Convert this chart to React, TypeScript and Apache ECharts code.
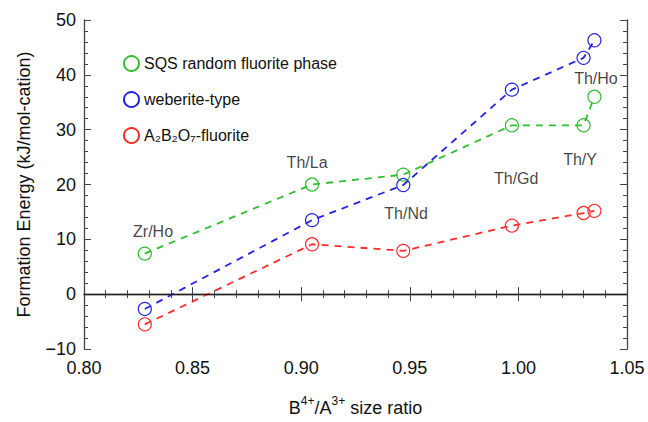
import React, { useEffect, useRef } from "react";
import * as echarts from "echarts";

const ratios = [0.828, 0.905, 0.947, 0.997, 1.03, 1.035];
const sqsValues = [7.4, 20.0, 21.8, 30.8, 30.8, 36.0];
const weberiteValues = [-2.7, 13.5, 19.9, 37.3, 43.1, 46.3];
const fluoriteValues = [-5.5, 9.1, 7.9, 12.5, 14.8, 15.2];
const seriesNames = ["SQS random fluorite phase", "weberite-type", "A₂B₂O₇-fluorite"];
const seriesColors = ["#2fbf2f", "#2323e6", "#ff2a2a"];
const pairLabels = ["Zr/Ho", "Th/La", "Th/Nd", "Th/Gd", "Th/Y", "Th/Ho"];
const labelX = [0.8318, 0.9027, 0.9483, 0.999, 1.0284, 1.0357];
const labelY = [11.5, 24.0, 14.7, 21.1, 24.5, 39.3];
const xTicks = [0.8, 0.85, 0.9, 0.95, 1.0, 1.05];
const yTicks = [-10, 0, 10, 20, 30, 40, 50];

const FONT = "'Liberation Sans', Arial, 'DejaVu Sans', sans-serif";

export default function App() {
  const ref = useRef<HTMLDivElement>(null);
  useEffect(() => {
    if (!ref.current) return;
    document.body.style.margin = "0";
    const chart = echarts.init(ref.current, undefined, { renderer: "svg" });
    const valuesList = [sqsValues, weberiteValues, fluoriteValues];
    const lineSeries = valuesList.map((vals, i) => ({
      name: seriesNames[i],
      type: "line",
      data: vals.map((v, j) => [ratios[j], v]),
      symbol: "circle",
      symbolSize: 13,
      showSymbol: true,
      itemStyle: { color: "rgba(255,255,255,0)", borderColor: seriesColors[i], borderWidth: 1.2 },
      lineStyle: { color: seriesColors[i], width: 1.8, type: [7, 6] },
      z: 3,
      ...(i === 0
        ? {
            markLine: {
              silent: true,
              symbol: "none",
              label: { show: false },
              lineStyle: { color: "#222", width: 1.2, type: "solid" },
              data: [{ yAxis: 0 }],
            },
          }
        : {}),
    }));
    const commonX = {
      type: "value",
      min: 0.8,
      max: 1.05,
      interval: 0.05,
      splitLine: { show: false },
      axisLine: { show: true, lineStyle: { color: "#444", width: 1.3 } },
      axisTick: { show: true, inside: true, length: 7, lineStyle: { color: "#444" } },
      minorTick: { show: true, splitNumber: 5, length: 4, lineStyle: { color: "#444" } },
    };
    const commonY = {
      type: "value",
      min: -10,
      max: 50,
      interval: 10,
      splitLine: { show: false },
      axisLine: { show: true, lineStyle: { color: "#444", width: 1.3 } },
      axisTick: { show: true, inside: true, length: 7, lineStyle: { color: "#444" } },
      minorTick: { show: true, splitNumber: 5, length: 4, lineStyle: { color: "#444" } },
    };
    chart.setOption({
      animation: false,
      backgroundColor: "#fff",
      textStyle: { fontFamily: FONT },
      grid: { left: 84, right: 21, top: 20, bottom: 65 },
      legend: {
        data: seriesNames,
        orient: "vertical",
        left: 118,
        top: 50,
        itemGap: 19,
        itemWidth: 15,
        itemHeight: 15,
        icon: "circle",
        textStyle: { fontSize: 16, color: "#111", fontFamily: FONT },
      },
      xAxis: [
        {
          ...commonX,
          position: "bottom",
          name: "{n|B}{s|4+}{n|/A}{s|3+}{n| size ratio}",
          nameLocation: "middle",
          nameGap: 46,
          nameTextStyle: {
            rich: {
              n: { fontSize: 18, color: "#111", fontFamily: FONT, lineHeight: 22, verticalAlign: "bottom" },
              s: { fontSize: 12, color: "#111", fontFamily: FONT, lineHeight: 22, verticalAlign: "top" },
            },
          },
          axisLabel: {
            fontSize: 18,
            color: "#111",
            margin: 10,
            formatter: (v: number) => (xTicks.some((t) => Math.abs(t - v) < 1e-6) ? v.toFixed(2) : ""),
          },
        },
        { ...commonX, position: "top", axisLabel: { show: false } },
      ],
      yAxis: [
        {
          ...commonY,
          position: "left",
          name: "Formation Energy (kJ/mol-cation)",
          nameLocation: "middle",
          nameGap: 51,
          nameTextStyle: { fontSize: 18, color: "#111", fontFamily: FONT },
          axisLabel: {
            fontSize: 18,
            color: "#111",
            margin: 8,
            formatter: (v: number) =>
              yTicks.includes(v) ? (v < 0 ? "\u2212" + Math.abs(v) : String(v)) : "",
          },
        },
        { ...commonY, position: "right", axisLabel: { show: false } },
      ],
      series: [
        ...lineSeries,
        {
          name: "labels",
          type: "scatter",
          symbolSize: 0,
          silent: true,
          data: pairLabels.map((t, i) => ({ name: t, value: [labelX[i], labelY[i]] })),
          label: {
            show: true,
            position: "inside",
            formatter: (p: any) => p.name,
            fontSize: 16,
            color: "#111",
            fontFamily: FONT,
          },
        },
      ],
    });
    return () => chart.dispose();
  }, []);
  return <div ref={ref} style={{ width: 648, height: 422 }} />;
}
